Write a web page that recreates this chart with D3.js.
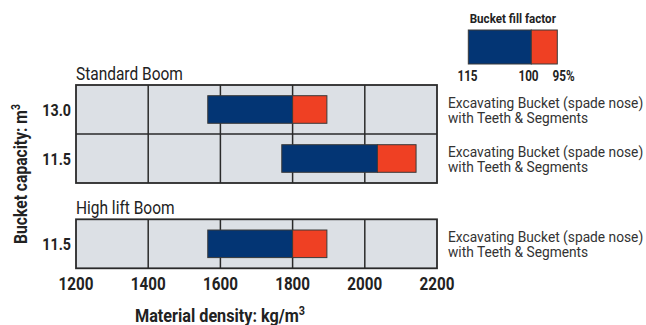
<!DOCTYPE html>
<html><head><meta charset="utf-8">
<script src="https://cdn.jsdelivr.net/npm/d3@7"></script>
<style>
html,body{margin:0;padding:0;background:#fff;}
svg{display:block;}
text{font-family:"Roboto","Liberation Sans",sans-serif;}
</style></head>
<body><svg id="chart" width="646" height="325"></svg>
<script>
// ---- data ----
const panels = ["Standard Boom", "High lift Boom"];
const rowPanel = [0, 0, 1];
const capacities = ["13.0", "11.5", "11.5"];
const density115 = [1565, 1770, 1565];
const density100 = [1800, 2035, 1800];
const density95 = [1895, 2142, 1895];
const bucketLabels = [
  ["Excavating Bucket (spade nose)", "with Teeth & Segments"],
  ["Excavating Bucket (spade nose)", "with Teeth & Segments"],
  ["Excavating Bucket (spade nose)", "with Teeth & Segments"]
];
const xTicks = [1200, 1400, 1600, 1800, 2000, 2200];
const legendTicks = [115, 100, 95];
const legendTickLabels = ["115", "100", "95%"];

// ---- layout ----
const BLUE = "#033574", RED = "#ef4023", PANEL = "#dce0e5", LINE = "#2a2a2a";
const svg = d3.select("#chart");
const x = d3.scaleLinear().domain([1200, 2200]).range([76, 437]);
const rowH = 49, barH = 27.6;
const panelTop = [85, 219.3];
const rowsInPanel = panels.map((p, i) => rowPanel.filter(r => r === i).length);
const rowTop = [];
const counter = panels.map(() => 0);
rowPanel.forEach((p, i) => { rowTop[i] = panelTop[p] + counter[p] * rowH; counter[p]++; });

// helper: horizontally condensed text anchored at (tx,ty)
function ctext(parent, tx, ty, anchor, size, weight, fill, cond, extra) {
  const g = parent.append("g").attr("transform", `translate(${tx},${ty})${extra || ""} scale(${cond},1)`);
  return g.append("text").attr("x", 0).attr("y", 0).attr("text-anchor", anchor)
    .attr("font-size", size).attr("font-weight", weight).attr("fill", fill);
}

// panels
panels.forEach((name, p) => {
  const g = svg.append("g");
  const h = rowsInPanel[p] * rowH;
  g.append("rect").attr("x", x(1200)).attr("y", panelTop[p])
    .attr("width", x(2200) - x(1200)).attr("height", h).attr("fill", PANEL);
  g.selectAll("line.v").data(xTicks.slice(1, -1)).join("line")
    .attr("x1", d => x(d)).attr("x2", d => x(d))
    .attr("y1", panelTop[p]).attr("y2", panelTop[p] + h)
    .attr("stroke", LINE).attr("stroke-width", 1.5);
  for (let k = 1; k < rowsInPanel[p]; k++) {
    g.append("line").attr("x1", x(1200)).attr("x2", x(2200))
      .attr("y1", panelTop[p] + k * rowH).attr("y2", panelTop[p] + k * rowH)
      .attr("stroke", LINE).attr("stroke-width", 1.5);
  }
  ctext(g, x(1200), panelTop[p] - 5, "start", 17.5, "normal", "#222", 0.885).text(name);
});

// bars
const rows = capacities.map((c, i) => ({i, c, lo: density115[i], mid: density100[i], hi: density95[i]}));
const bars = svg.append("g");
rows.forEach(d => {
  const yb = rowTop[d.i] + (rowH - barH) / 2;
  bars.append("rect").attr("x", x(d.lo)).attr("y", yb)
    .attr("width", x(d.mid) - x(d.lo)).attr("height", barH)
    .attr("fill", BLUE).attr("stroke", "#3a3a3a").attr("stroke-width", 1);
  bars.append("rect").attr("x", x(d.mid)).attr("y", yb)
    .attr("width", x(d.hi) - x(d.mid)).attr("height", barH)
    .attr("fill", RED).attr("stroke", "#3a3a3a").attr("stroke-width", 1);
});

// panel borders on top
panels.forEach((name, p) => {
  svg.append("rect").attr("x", x(1200)).attr("y", panelTop[p])
    .attr("width", x(2200) - x(1200)).attr("height", rowsInPanel[p] * rowH)
    .attr("fill", "none").attr("stroke", LINE).attr("stroke-width", 1.8);
});

// y labels
rows.forEach(d => {
  ctext(svg, 71, rowTop[d.i] + rowH / 2 + 6.5, "end", 17, "bold", "#222", 0.84).text(d.c);
});

// right labels
rows.forEach(d => {
  bucketLabels[d.i].forEach((line, k) => {
    ctext(svg, 448, rowTop[d.i] + 22.5 + k * 15.5, "start", 14.2, "normal", "#333", 0.97).text(line);
  });
});

// x axis
const xAxis = svg.append("g").attr("transform", "translate(0,290)");
xTicks.forEach(v => {
  ctext(xAxis, x(v), 0, "middle", 18, "bold", "#222", 0.845).text(d3.format("d")(v));
});

// axis titles
const xt = ctext(svg, 220, 321.5, "middle", 18, "bold", "#222", 0.9);
xt.append("tspan").text("Material density: kg/m");
xt.append("tspan").attr("font-size", 12).attr("dy", -7).text("3");

const yt = ctext(svg, 26.5, 174, "middle", 18, "bold", "#222", 0.87, " rotate(-90)");
yt.append("tspan").text("Bucket capacity: m");
yt.append("tspan").attr("font-size", 12).attr("dy", -7).text("3");

// legend
const lg = svg.append("g");
const lx = d3.scaleLinear().domain(legendTicks).range([468.3, 531.3, 557.3]);
ctext(lg, (lx(115) + lx(95)) / 2, 22.5, "middle", 13.5, "bold", "#222", 0.86).text("Bucket fill factor");
lg.append("rect").attr("x", lx(115)).attr("y", 30).attr("width", lx(100) - lx(115)).attr("height", 34)
  .attr("fill", BLUE).attr("stroke", "#3a3a3a").attr("stroke-width", 1);
lg.append("rect").attr("x", lx(100)).attr("y", 30).attr("width", lx(95) - lx(100)).attr("height", 34)
  .attr("fill", RED).attr("stroke", "#3a3a3a").attr("stroke-width", 1);
const legendLabelX = [467.5, 528.5, 563.5];
legendTicks.forEach((v, i) => {
  ctext(lg, legendLabelX[i], 80.5, "middle", 14, "bold", "#222", 0.84).text(legendTickLabels[i]);
});
</script></body></html>
